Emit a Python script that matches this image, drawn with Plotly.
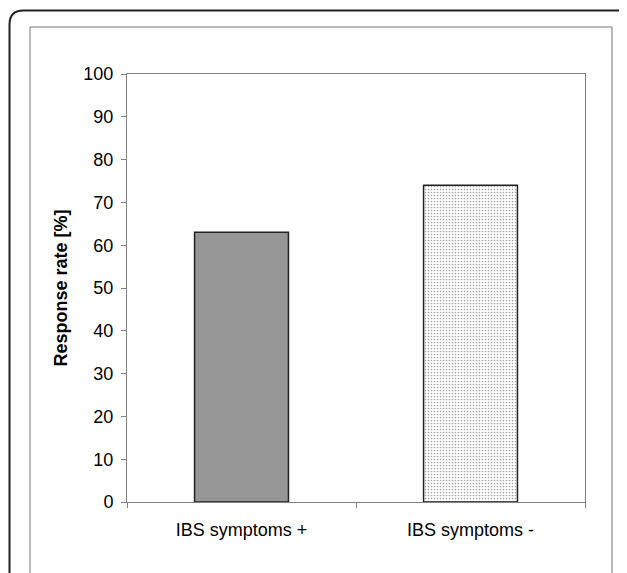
'''
Response rate by IBS symptom status, drawn as a two-bar chart.
'''

import plotly.graph_objects as go

categories = ['IBS symptoms +', 'IBS symptoms -']
response_rate = [63, 74]
y_ticks = [0, 10, 20, 30, 40, 50, 60, 70, 80, 90, 100]

# page body adds an 8px offset, so layout pixels are shifted by it
OFF = 8
W, H = 627, 573
L, R, T, B = 127 - OFF, 42 + OFF, 74 - OFF, 71 + OFF


def px_x(px):
    return (px - OFF - L) / (W - L - R)


def px_y(py):
    return (H - B - (py - OFF)) / (H - T - B)


def rounded_rect(x0, y0, x1, y1, r):
    '''Path (paper coords) of a rectangle given in pixels, with rounded corners.'''
    pts = [
        f'M {px_x(x0 + r)} {px_y(y0)}',
        f'L {px_x(x1 - r)} {px_y(y0)}',
        f'Q {px_x(x1)} {px_y(y0)} {px_x(x1)} {px_y(y0 + r)}',
        f'L {px_x(x1)} {px_y(y1 - r)}',
        f'Q {px_x(x1)} {px_y(y1)} {px_x(x1 - r)} {px_y(y1)}',
        f'L {px_x(x0 + r)} {px_y(y1)}',
        f'Q {px_x(x0)} {px_y(y1)} {px_x(x0)} {px_y(y1 - r)}',
        f'L {px_x(x0)} {px_y(y0 + r)}',
        f'Q {px_x(x0)} {px_y(y0)} {px_x(x0 + r)} {px_y(y0)}',
        'Z',
    ]
    return ' '.join(pts)


fig = go.Figure()

fig.add_trace(go.Bar(
    x=categories[:1],
    y=response_rate[:1],
    marker={'color': '#969696', 'line': {'color': '#222222', 'width': 1.5}},
    width=0.41,
))
fig.add_trace(go.Bar(
    x=categories[1:],
    y=response_rate[1:],
    marker={
        'color': 'white',
        'line': {'color': '#222222', 'width': 1.5},
        'pattern': {'shape': '.', 'fgcolor': '#4a4a4a', 'bgcolor': 'white',
                    'size': 3, 'solidity': 0.25},
    },
    width=0.41,
))

# outer rounded frame and inner panel border
fig.add_shape(type='path', xref='paper', yref='paper',
              path=rounded_rect(9.5, 10.5, 660, 620, 14),
              line={'color': '#222222', 'width': 2}, layer='below')
fig.add_shape(type='rect', xref='paper', yref='paper',
              x0=px_x(30), y0=px_y(27), x1=px_x(612), y1=px_y(620),
              line={'color': '#777777', 'width': 1}, layer='below')

font = {'family': 'Liberation Sans, Arial, sans-serif', 'size': 18, 'color': 'black'}

fig.update_layout(
    width=W,
    height=H,
    margin={'l': L, 'r': R, 't': T, 'b': B},
    plot_bgcolor='white',
    paper_bgcolor='white',
    showlegend=False,
    barmode='overlay',
    font=font,
    xaxis={
        'type': 'category',
        'tickson': 'boundaries',
        'ticks': 'outside',
        'ticklen': 5,
        'tickcolor': '#808080',
        'showline': True,
        'linecolor': '#808080',
        'mirror': True,
        'showgrid': False,
        'tickfont': font,
        'ticklabelstandoff': 11,
    },
    yaxis={
        'range': [0, 100],
        'tickvals': y_ticks,
        'ticks': 'outside',
        'ticklen': 5,
        'tickcolor': '#808080',
        'showline': True,
        'linecolor': '#808080',
        'mirror': True,
        'showgrid': False,
        'zeroline': False,
        'tickfont': font,
        'ticklabelstandoff': 4,
        'title': {'text': '<b>Response rate [%]</b>',
                  'font': {'family': 'Liberation Sans, Arial, sans-serif', 'size': 18,
                           'color': 'black'},
                  'standoff': 11},
    },
)

fig.write_html('out.html')
